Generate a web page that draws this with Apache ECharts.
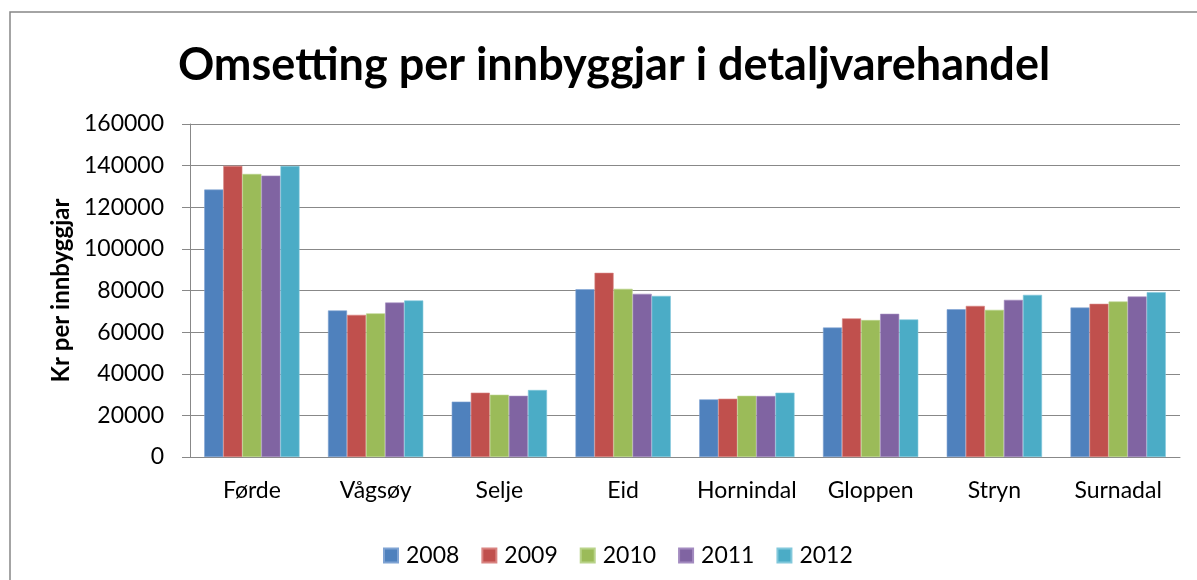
<!DOCTYPE html>
<html>
<head>
<meta charset="utf-8">
<script src="https://cdn.jsdelivr.net/npm/echarts@6/dist/echarts.min.js"></script>
<style>
html,body{margin:0;padding:0;background:#fff;}
#c{width:1197px;height:580px;}
</style>
</head>
<body>
<div id="c"></div>
<script>
const categories = ['Førde','Vågsøy','Selje','Eid','Hornindal','Gloppen','Stryn','Surnadal'];
const years = ['2008','2009','2010','2011','2012'];
const v2008 = [128500, 70400, 26600, 80600, 27700, 62200, 71000, 71800];
const v2009 = [139900, 68300, 30900, 88500, 28000, 66600, 72600, 73600];
const v2010 = [136000, 69000, 29900, 80800, 29400, 65800, 70700, 74700];
const v2011 = [135200, 74200, 29400, 78400, 29300, 68800, 75500, 77100];
const v2012 = [139800, 75200, 32200, 77400, 30900, 66100, 77900, 79200];
const yTicks = [0, 20000, 40000, 60000, 80000, 100000, 120000, 140000, 160000];
const colors = ['#4F81BD','#C0504D','#9BBB59','#8064A2','#4BACC6'];
const borders = ['#7FA3D3','#D98481','#B9D38A','#A38BC0','#82C8DB'];
const seriesValues = [v2008, v2009, v2010, v2011, v2012];

const font = 'Lato, "Open Sans", sans-serif';
const chart = echarts.init(document.getElementById('c'), null, {renderer:'canvas'});
chart.setOption({
  animation: false,
  backgroundColor: '#fff',
  title: {
    text: 'Omsetting per innbyggjar i detaljvarehandel',
    left: 609, top: 38, textAlign: 'center',
    textStyle: {fontFamily: font, fontWeight: 'bold', fontSize: 45, color: '#000'}
  },
  graphic: [{
    type: 'rect', shape: {x: 10, y: 12, width: 1300, height: 700},
    style: {fill: 'none', stroke: '#868686', lineWidth: 1.5}, silent: true, z: -1
  }],
  legend: {
    data: years, left: 378, top: 539,
    itemWidth: 14, itemHeight: 14, itemGap: 22,
    icon: 'rect',
    textStyle: {fontFamily: font, fontSize: 23, color: '#000', padding: [0,0,0,3]}
  },
  grid: {left: 190, right: 17, top: 124, bottom: 123},
  xAxis: {
    type: 'category', data: categories,
    axisLine: {lineStyle: {color: '#888', width: 1}},
    axisTick: {show: false},
    axisLabel: {fontFamily: font, fontSize: 23, color: '#000', margin: 22, interval: 0}
  },
  yAxis: {
    type: 'value', min: 0, max: 160000, interval: 20000,
    name: 'Kr per innbyggjar', nameLocation: 'middle', nameGap: 116,
    nameTextStyle: {fontFamily: font, fontWeight: 'bold', fontSize: 24, color: '#000'},
    axisLine: {show: true, lineStyle: {color: '#888', width: 1}},
    axisTick: {show: true, length: 8, lineStyle: {color: '#888'}},
    splitLine: {lineStyle: {color: '#888', width: 1}},
    axisLabel: {fontFamily: font, fontSize: 23, color: '#000', margin: 26,
      formatter: function(v){ return yTicks.indexOf(v) >= 0 ? String(v) : ''; }}
  },
  series: seriesValues.map(function(vals, i){
    return {
      name: years[i], type: 'bar', data: vals,
      barGap: '0%', barCategoryGap: '23%',
      itemStyle: {color: colors[i], borderColor: borders[i], borderWidth: 0.6}
    };
  })
});
</script>
</body>
</html>
